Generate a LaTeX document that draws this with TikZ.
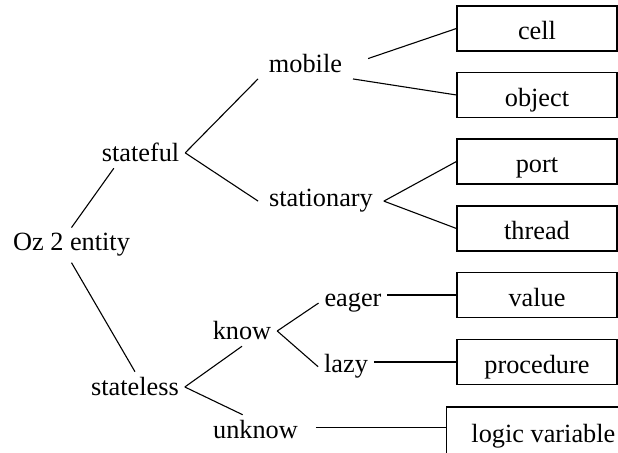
\documentclass[tikz,border=0pt]{standalone}
\usepackage{fontspec}
\setmainfont{Liberation Serif}

\begin{document}
\begin{tikzpicture}[x=0.5pt, y=-0.5pt, line width=0.55pt,
  font=\fontsize{13.15}{16}\selectfont]

  \tikzset{word/.style = {inner sep=0pt, outer sep=3pt, anchor=base},
    wide/.style = {outer xsep=5.5pt},
    leaf/.style = {draw, minimum width=80pt, minimum height=22.5pt, inner sep=0pt,
      text height=11.5pt, text depth=0pt}}

  \useasboundingbox (0,0) rectangle (618,453);
  \clip (0,0) rectangle (618,453);

  % the tree
  \node[word] (oz) at (71.5,251) {Oz 2 entity};
  \node[word] (stateful) at (140.5,162) {stateful};
  \node[word] (stateless) at (135,396) {stateless};
  \node[word, wide] (mobile) at (305.5,72.7) {mobile};
  \node[word, wide] (stationary) at (321,207) {stationary};
  \node[word] (know) at (242,340) {know};
  \node[word] (unknow) at (255.5,439) {unknow};
  \node[word] (eager) at (353,307) {eager};
  \node[word] (lazy) at (346,373) {lazy};

  % the leaves
  \node[leaf] (cell) at (537,28.5) {cell};
  \node[leaf] (object) at (537,95) {object};
  \node[leaf] (port) at (537,161.5) {port};
  \node[leaf] (thread) at (537,228.5) {thread};
  \node[leaf] (value) at (537,295) {value};
  \node[leaf] (procedure) at (537,362) {procedure};
  \node[leaf, minimum width=96.7pt, minimum height=24pt] (logicvar) at (543.4,431) {logic variable};

  \draw (oz.north) -- (stateful.210);
  \draw (oz.south) -- (stateless.north);
  \draw (stateful.east) -- (mobile.south west);
  \draw (stateful.east) -- (stationary.west);
  \draw[shorten <=8pt] (mobile.east) -- (cell.west);
  \draw (mobile.south east) -- (object.west);
  \draw (stationary.east) -- (port.west);
  \draw (stationary.east) -- (thread.west);
  \draw (stateless.east) -- (know.south);
  \draw (stateless.east) -- (unknow.130);
  \draw (know.east) -- (eager.west);
  \draw (know.east) -- (lazy.west);
  \draw (eager.east |- value.west) -- (value.west);
  \draw (lazy.east |- procedure.west) -- (procedure.west);
  \draw[shorten <=6pt] (unknow.east |- logicvar.178) -- (logicvar.178);

\end{tikzpicture}
\end{document}
